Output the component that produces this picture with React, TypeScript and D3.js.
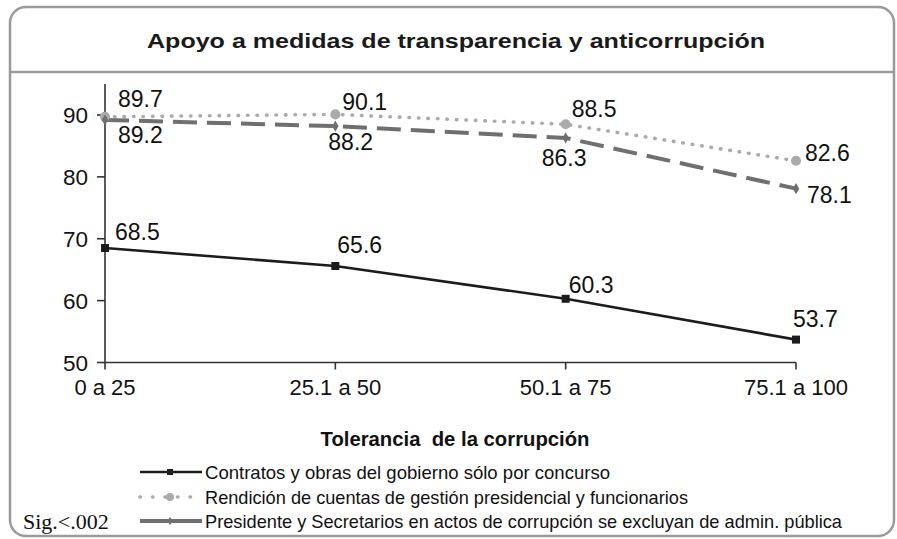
import React from "react";
import * as d3 from "d3";

const categories = ["0 a 25", "25.1 a 50", "50.1 a 75", "75.1 a 100"];
const contratos = [68.5, 65.6, 60.3, 53.7];
const rendicion = [89.7, 90.1, 88.5, 82.6];
const presidente = [89.2, 88.2, 86.3, 78.1];
const yTicks = [50, 60, 70, 80, 90];
const seriesNames = [
  "Contratos y obras del gobierno sólo por concurso",
  "Rendición de cuentas de gestión presidencial y funcionarios",
  "Presidente y Secretarios en actos de corrupción se excluyan de admin. pública",
];
const titleText = "Apoyo a medidas de transparencia y anticorrupción";
const xTitle = "Tolerancia  de la corrupción";
const noteText = "Sig.<.002";

// label offsets (dx, dy) relative to each point
const labelOffsets = [
  [[10, -8], [2, -13], [3, -6], [-3, -12.6]],
  [[13, -9.5], [7, -4.4], [6, -7.3], [9, 0]],
  [[13, 23], [-7, 24], [-24, 28], [11, 14]],
];

const SANS = "'Liberation Sans', Arial, Helvetica, sans-serif";
const NARROW = "'Liberation Sans Narrow', 'Arial Narrow', 'Liberation Sans', Arial, sans-serif";

export default function App() {
  const W = 897, H = 539;
  const x = d3.scalePoint<string>().domain(categories).range([105, 796]);
  const y = d3.scaleLinear().domain([50, 90]).range([362.5, 115]);
  const axisTop = y(95);

  const line = d3.line<number>()
    .x((_, i) => x(categories[i]) as number)
    .y((d) => y(d));

  const series = [
    { values: contratos, color: "#1c1c1c", width: 2.6, dash: "", cap: "butt", marker: "square" },
    { values: rendicion, color: "#ababab", width: 3.6, dash: "0.5 9", cap: "round", marker: "circle" },
    { values: presidente, color: "#6f6f6f", width: 4, dash: "24 10", cap: "butt", marker: "diamond" },
  ];

  const markerPath = (type: string, size: number) => {
    const t = type === "square" ? d3.symbolSquare : type === "circle" ? d3.symbolCircle : d3.symbolDiamond;
    return d3.symbol().type(t).size(size)() as string;
  };
  const markerSize = (type: string) => (type === "square" ? 64 : type === "circle" ? 80 : 36);

  const legendY = [472, 497, 521];

  return (
    <svg width={W} height={H} style={{ position: "absolute", left: 0, top: 0, background: "#fff" }}>
      <rect x={10} y={7} width={884} height={529} rx={16} ry={16} fill="#fff" stroke="#9a9a9a" strokeWidth={2.5} />
      <line x1={10} x2={894} y1={72} y2={72} stroke="#9a9a9a" strokeWidth={2.5} />
      <text x={456} y={47.5} textAnchor="middle" fontFamily={SANS} fontWeight="bold" fontSize={20.5}
        fill="#1a1a1a" textLength={618} lengthAdjust="spacingAndGlyphs">{titleText}</text>

      {/* axes */}
      <line x1={x(categories[0])} x2={x(categories[0])} y1={axisTop} y2={y(50)} stroke="#333" strokeWidth={1.6} />
      <line x1={x(categories[0])} x2={x(categories[categories.length - 1])} y1={y(50)} y2={y(50)} stroke="#333" strokeWidth={1.6} />
      {yTicks.map((t) => (
        <g key={t}>
          <line x1={97} x2={105} y1={y(t)} y2={y(t)} stroke="#333" strokeWidth={1.6} />
          <text x={88} y={y(t) + 8} textAnchor="end" fontFamily={SANS} fontSize={22.5} fill="#111">{t}</text>
        </g>
      ))}
      {categories.map((c) => (
        <g key={c}>
          <line x1={x(c)} x2={x(c)} y1={y(50)} y2={y(50) + 7} stroke="#333" strokeWidth={1.6} />
          <text x={x(c)} y={395} textAnchor="middle" fontFamily={SANS} fontSize={22} fill="#111">{c}</text>
        </g>
      ))}

      {/* series lines */}
      {series.map((s, si) => (
        <path key={si} d={line(s.values) as string} fill="none" stroke={s.color} strokeWidth={s.width}
          strokeDasharray={s.dash || undefined} strokeLinecap={s.cap as any} />
      ))}
      {series.map((s, si) =>
        s.values.map((v, i) => (
          <path key={`${si}-${i}`} d={markerPath(s.marker, markerSize(s.marker))}
            transform={`translate(${x(categories[i])},${y(v)})`} fill={s.color} />
        ))
      )}
      {series.map((s, si) =>
        s.values.map((v, i) => (
          <text key={`l${si}-${i}`} x={(x(categories[i]) as number) + labelOffsets[si][i][0]}
            y={y(v) + labelOffsets[si][i][1]} fontFamily={SANS} fontSize={23} fill="#111">
            {v.toFixed(1)}
          </text>
        ))
      )}

      <text x={455} y={446} textAnchor="middle" fontFamily={SANS} fontWeight="bold" fontSize={20}
        fill="#111" textLength={269} lengthAdjust="spacingAndGlyphs" style={{ whiteSpace: "pre" }}>{xTitle}</text>

      {/* legend */}
      {series.map((s, si) => (
        <g key={`lg${si}`}>
          <line x1={140} x2={202} y1={legendY[si]} y2={legendY[si]} stroke={s.color} strokeWidth={s.width}
            strokeDasharray={si === 1 ? "0.5 12" : undefined} strokeLinecap={s.cap as any} />
          <path d={markerPath(s.marker, si === 0 ? 36 : si === 1 ? 50 : 22)}
            transform={`translate(170,${legendY[si]})`} fill={s.color} />
          <text x={205} y={legendY[si] + 6.5} fontFamily={NARROW} fontSize={18.5} fill="#111"
            textLength={[405, 483, 637][si]} lengthAdjust="spacingAndGlyphs">{seriesNames[si]}</text>
        </g>
      ))}
      <text x={23} y={529} fontFamily="'Liberation Serif', 'Times New Roman', serif" fontSize={22} fill="#111">{noteText}</text>
    </svg>
  );
}
